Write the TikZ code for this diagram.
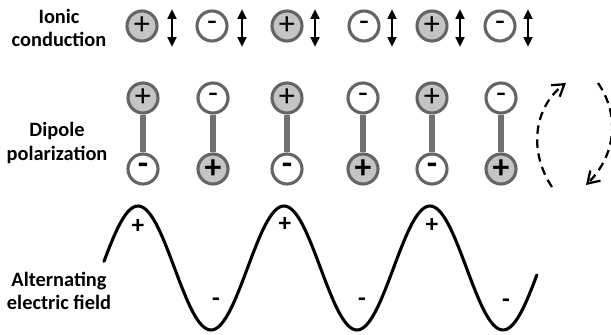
\documentclass[tikz,border=0pt]{standalone}
\usepackage{fontspec}
\setmainfont{Carlito}
\usetikzlibrary{arrows.meta}
\definecolor{iongray}{RGB}{196,196,196}
\definecolor{rimgray}{RGB}{100,100,100}
\definecolor{rodgray}{RGB}{112,112,112}
\tikzset{
  charge/.style={circle, draw=rimgray, line width=2.2pt, minimum size=0.75cm, inner sep=0pt, font=\fontsize{23}{23}\selectfont},
  poscharge/.style={charge, fill=iongray},
  negcharge/.style={charge, fill=white},
  boldsign/.style={font=\bfseries\fontsize{24}{24}\selectfont},
  rod/.style={rodgray, line width=3.8pt},
  jiggle/.style={{Triangle[length=2.4mm,width=2.2mm]}-{Triangle[length=2.4mm,width=2.2mm]}, line width=1.6pt},
  spin/.style={line width=1.6pt, dash pattern=on 6pt off 4pt, -{Straight Barb[length=2.8mm,width=3.6mm]}},
  rowlabel/.style={align=center, font=\bfseries\fontsize{14.5}{16.5}\selectfont},
  fieldsign/.style={font=\bfseries\fontsize{18}{18}\selectfont}
}
\begin{document}
\begin{tikzpicture}
        \useasboundingbox (0,0) rectangle (15.275,8.375);

        % Row labels
        \node[rowlabel] (lionic) at (1.475,7.675) {Ionic\\conduction};
        \node[rowlabel] (ldipole) at (1.425,4.8) {Dipole\\polarization};
        \node[rowlabel] (lfield) at (1.475,1.1) {Alternating\\electric field};

        % Ionic conduction row
        \node[poscharge] (i1) at (3.55,7.725) {+};
        \node[negcharge] (i2) at (5.3,7.725) {-};
        \node[poscharge] (i3) at (7.175,7.725) {+};
        \node[negcharge] (i4) at (9.1,7.725) {-};
        \node[poscharge] (i5) at (10.8,7.725) {+};
        \node[negcharge] (i6) at (12.5,7.725) {-};

        % Oscillation arrows next to the ions
        \draw[jiggle] ([xshift=0.75cm,yshift=0.42cm]i1.center) -- ([xshift=0.75cm,yshift=-0.52cm]i1.center);
        \draw[jiggle] ([xshift=0.75cm,yshift=0.42cm]i2.center) -- ([xshift=0.75cm,yshift=-0.52cm]i2.center);
        \draw[jiggle] ([xshift=0.7cm,yshift=0.42cm]i3.center) -- ([xshift=0.7cm,yshift=-0.52cm]i3.center);
        \draw[jiggle] ([xshift=0.7cm,yshift=0.42cm]i4.center) -- ([xshift=0.7cm,yshift=-0.52cm]i4.center);
        \draw[jiggle] ([xshift=0.7cm,yshift=0.42cm]i5.center) -- ([xshift=0.7cm,yshift=-0.52cm]i5.center);
        \draw[jiggle] ([xshift=0.7cm,yshift=0.42cm]i6.center) -- ([xshift=0.7cm,yshift=-0.52cm]i6.center);

        % Dipoles, upper ends
        \node[poscharge] (d1t) at (3.575,5.925) {+};
        \node[negcharge] (d2t) at (5.325,5.925) {-};
        \node[poscharge] (d3t) at (7.175,5.925) {+};
        \node[negcharge] (d4t) at (9.075,5.925) {-};
        \node[poscharge] (d5t) at (10.8,5.925) {+};
        \node[negcharge] (d6t) at (12.525,5.925) {-};

        % Dipoles, lower ends
        \node[negcharge, boldsign] (d1b) at (3.575,4.15) {-};
        \node[poscharge, boldsign] (d2b) at (5.325,4.15) {+};
        \node[negcharge, boldsign] (d3b) at (7.175,4.15) {-};
        \node[poscharge, boldsign] (d4b) at (9.075,4.15) {+};
        \node[negcharge, boldsign] (d5b) at (10.8,4.15) {-};
        \node[poscharge, boldsign] (d6b) at (12.525,4.15) {+};

        % Rods
        \draw[rod] (d1t) -- (d1b);
        \draw[rod] (d2t) -- (d2b);
        \draw[rod] (d3t) -- (d3b);
        \draw[rod] (d4t) -- (d4b);
        \draw[rod] (d5t) -- (d5b);
        \draw[rod] (d6t) -- (d6b);

        % Rotation hint
        \coordinate (spinA) at (13.8,3.7);
        \coordinate (spinB) at (14.15,6.3);
        \coordinate (spinC) at (14.95,6.3);
        \coordinate (spinD) at (14.65,3.75);
        \draw[spin] (spinA) .. controls (13.2,4.6) and (13.35,5.7) .. (spinB);
        \draw[spin] (spinC) .. controls (15.5,5.5) and (15.4,4.5) .. (spinD);

        % Alternating field
        \draw[line width=2.2pt, line cap=round] plot[domain=2.6:13.425, samples=200, smooth] (\x, {1.675+1.55*cos(360*(\x-3.45)/3.65)});

        \node[fieldsign] (p1) at (3.45,2.725) {+};
        \node[fieldsign] (p2) at (7.125,2.775) {+};
        \node[fieldsign] (p3) at (10.8,2.75) {+};
        \node[fieldsign] (m1) at (5.4,0.825) {-};
        \node[fieldsign] (m2) at (9.05,0.825) {-};
        \node[fieldsign] (m3) at (12.65,0.8) {-};
    \end{tikzpicture}
\end{document}
